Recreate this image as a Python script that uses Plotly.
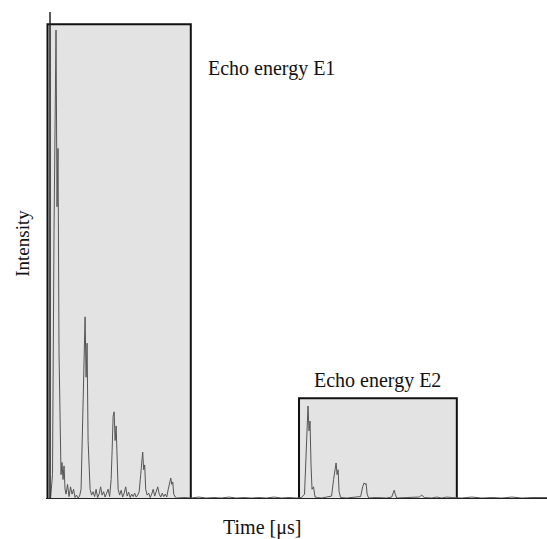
import plotly.graph_objects as go

# Echo signal (arbitrary time units in microseconds, normalised intensity)
time_us = [
    0.9, 1.3, 1.6, 1.8, 2.0, 2.2, 2.4, 2.6, 2.8, 3.0, 3.2, 3.4, 3.6, 3.8, 4.0, 4.3, 4.6, 4.9, 5.2, 5.5,
    5.8, 6.1, 6.4, 6.7, 7.0, 7.2, 7.4, 7.6, 7.8, 8.0, 8.2, 8.4, 8.6, 8.8, 9.1, 9.4, 9.7, 10.0, 10.3, 10.6,
    10.9, 11.2, 11.5, 11.8, 12.1, 12.4, 12.7, 13.0, 13.2, 13.4, 13.6, 13.8, 14.0, 14.2, 14.4, 14.7, 15.0,
    15.3, 15.6, 15.9, 16.2, 16.5, 16.8, 17.1, 17.4, 17.7, 18.0, 18.3, 18.6, 18.9, 19.1, 19.3, 19.5, 19.7,
    19.9, 20.2, 20.5, 20.8, 21.1, 21.4, 21.7, 22.0, 22.3, 22.6, 22.9, 23.2, 23.5, 23.8, 24.1, 24.4, 24.7,
    24.9, 25.1, 25.3, 25.5, 25.8, 26.1, 27.5, 29.0, 30.5, 32.0, 33.5, 35.0, 36.5, 38.0, 39.5, 41.0, 42.5,
    44.0, 45.5, 47.0, 48.5, 50.0, 51.0, 51.6, 51.9, 52.1, 52.3, 52.5, 52.7, 52.9, 53.1, 53.4, 53.7, 54.2,
    55.0, 56.0, 57.0, 57.4, 57.7, 57.9, 58.1, 58.3, 58.5, 58.8, 60.0, 61.5, 62.8, 63.2, 63.5, 63.7, 63.9,
    64.1, 64.4, 66.0, 68.0, 69.0, 69.3, 69.5, 69.7, 70.0, 72.0, 74.5, 75.0, 75.5, 77.0, 78.0, 79.0, 80.0,
    81.0, 83.0, 85.0, 87.0, 89.0, 91.0, 93.0, 95.0, 97.0, 99.0, 100.0,
]
intensity = [
    0.0, 0.05, 0.55, 0.80, 0.963, 0.60, 0.72, 0.30, 0.12, 0.05, 0.075, 0.04, 0.068, 0.02, 0.01, 0.03, 0.005, 0.025, 0.01, 0.02,
    0.003, 0.008, 0.002, 0.006, 0.02, 0.10, 0.18, 0.30, 0.374, 0.25, 0.32, 0.12, 0.06, 0.02, 0.008, 0.015, 0.005, 0.02, 0.003, 0.01,
    0.025, 0.008, 0.015, 0.004, 0.012, 0.02, 0.005, 0.04, 0.10, 0.17, 0.179, 0.12, 0.15, 0.06, 0.02, 0.008, 0.018,
    0.004, 0.012, 0.025, 0.006, 0.014, 0.003, 0.01, 0.005, 0.012, 0.004, 0.008, 0.015, 0.05, 0.08, 0.0965, 0.06, 0.07,
    0.02, 0.008, 0.012, 0.003, 0.01, 0.02, 0.006, 0.015, 0.025, 0.01, 0.004, 0.012, 0.005, 0.01, 0.004, 0.02, 0.038,
    0.043, 0.03, 0.035, 0.01, 0.004, 0.002, 0.003, 0.002, 0.004, 0.002, 0.003, 0.002, 0.004, 0.002, 0.003, 0.002, 0.003,
    0.002, 0.004, 0.002, 0.003, 0.002, 0.003, 0.01, 0.08, 0.15, 0.191, 0.14, 0.16, 0.07, 0.02, 0.025, 0.004, 0.003,
    0.002, 0.004, 0.006, 0.04, 0.065, 0.074, 0.05, 0.06, 0.015, 0.003, 0.002, 0.003, 0.005, 0.025, 0.033, 0.03, 0.032,
    0.01, 0.002, 0.003, 0.002, 0.004, 0.015, 0.018, 0.01, 0.002, 0.003, 0.004, 0.008, 0.003, 0.002, 0.004, 0.002, 0.004,
    0.003, 0.002, 0.004, 0.002, 0.003, 0.002, 0.004, 0.002, 0.003, 0.002, 0.003,
]

# Integration windows
window_labels = ["Echo energy E1", "Echo energy E2"]
window_start = [0.3, 50.5]
window_end = [28.9, 82.0]
window_height = [0.975, 0.207]

FONT = "Liberation Serif"
TXT = "#111111"

fig = go.Figure()

for s, e, h in zip(window_start, window_end, window_height):
    fig.add_shape(type="rect", xref="x", yref="y", x0=s, x1=e, y0=0, y1=h,
                  fillcolor="#e3e3e3", line=dict(color="#111111", width=2), layer="below")

fig.add_trace(go.Scatter(x=time_us, y=intensity, mode="lines",
                         line=dict(color="#555555", width=1), showlegend=False,
                         hoverinfo="skip"))

# y axis line
fig.add_shape(type="line", xref="x", yref="y", x0=0.8, x1=0.8, y0=0, y1=1,
              line=dict(color="#222222", width=1.5))
# x axis line
fig.add_shape(type="line", xref="x", yref="y", x0=0, x1=100, y0=0, y1=0,
              line=dict(color="#222222", width=2))

# window labels
fig.add_annotation(x=window_end[0] + 3.0, y=0.885, xref="x", yref="y", text=window_labels[0],
                   showarrow=False, xanchor="left", yanchor="middle",
                   font=dict(family=FONT, size=20, color=TXT))
fig.add_annotation(x=(window_start[1] + window_end[1]) / 2, y=window_height[1] + 0.008,
                   xref="x", yref="y", text=window_labels[1],
                   showarrow=False, xanchor="center", yanchor="bottom",
                   font=dict(family=FONT, size=20, color=TXT))

# axis titles
fig.add_annotation(x=-0.046, y=0.526, xref="paper", yref="paper", text="Intensity",
                   showarrow=False, textangle=-90, xanchor="center", yanchor="middle",
                   font=dict(family=FONT, size=19, color=TXT))
fig.add_annotation(x=0.431, y=-0.0575, xref="paper", yref="paper", text="Time [\u03bcs]",
                   showarrow=False, xanchor="center", yanchor="middle",
                   font=dict(family=FONT, size=20, color=TXT))

fig.update_xaxes(range=[0, 100], visible=False, fixedrange=True)
fig.update_yaxes(range=[0, 1], visible=False, fixedrange=True)

fig.update_layout(width=547, height=539, margin=dict(l=46, r=0, t=12, b=40),
                  paper_bgcolor="white", plot_bgcolor="white", showlegend=False)

fig.write_html("out.html")
